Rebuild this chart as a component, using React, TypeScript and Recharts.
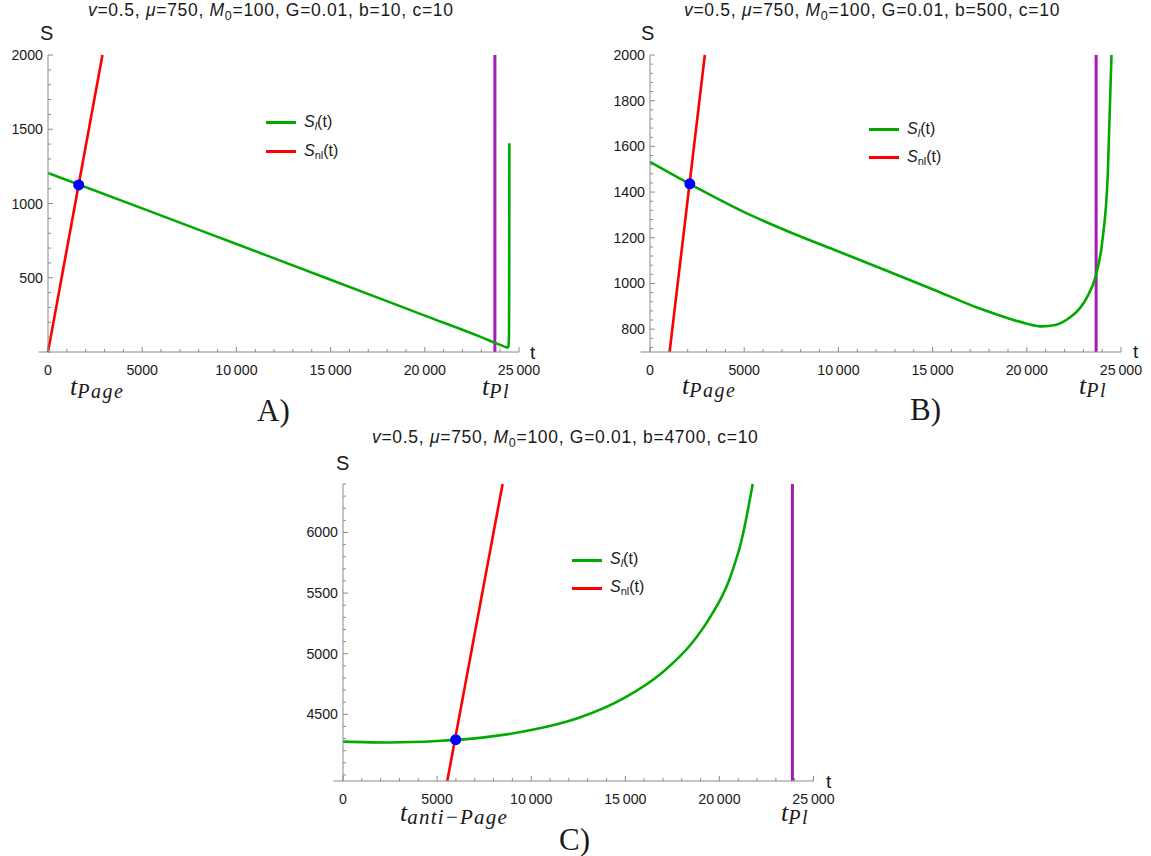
import React from 'react';
import { LineChart, Line, XAxis, YAxis, ReferenceLine, ReferenceDot, Legend } from 'recharts';

// ---------- Panel A (b=10) ----------
const tGreenA = [0, 5000, 10000, 15000, 20000, 23000, 23800, 24200, 24380, 24440, 24470, 24480, 24490];
const sGreenA = [1205, 967, 727, 487, 245, 100, 58, 38, 30, 38, 120, 600, 1405];
const tRedA = [0, 2890];
const sRedA = [0, 2000];
const dotA = [1630, 1125];
const tPlA = 23720;
const yMajorA = [500, 1000, 1500, 2000];

// ---------- Panel B (b=500) ----------
const tGreenB = [0, 2500, 5000, 7500, 10000, 12500, 15000, 17500, 19000, 20000, 20800, 21500, 22300, 22800, 23200, 23650, 24000, 24300, 24495];
const sGreenB = [1532, 1418, 1312, 1222, 1140, 1058, 975, 890, 848, 824, 812, 818, 852, 890, 940, 1030, 1180, 1480, 2000];
const tRedB = [1040, 2910];
const sRedB = [700, 2000];
const dotB = [2113, 1436];
const tPlB = 23680;
const yMajorB = [800, 1000, 1200, 1400, 1600, 1800, 2000];

// ---------- Panel C (b=4700) ----------
const tGreenC = [0, 2500, 5000, 7500, 10000, 12500, 15000, 17000, 18500, 19500, 20500, 21200, 21770];
const sGreenC = [4275, 4268, 4280, 4310, 4370, 4470, 4640, 4850, 5080, 5300, 5600, 5950, 6400];
const tRedC = [5540, 8480];
const sRedC = [3950, 6400];
const dotC = [5989, 4291];
const tPlC = 23880;
const yMajorC = [4500, 5000, 5500, 6000];

const SANS = '"Liberation Sans", Arial, sans-serif';
const SERIF = '"Liberation Serif", "Times New Roman", serif';
const AXIS = '#8a8a8a';
const GREEN = '#00aa00';
const RED = '#ff0000';
const PURPLE = '#a51ab5';
const BLUE = '#0000ff';
const TXT = '#1a1a1a';
const TICK_FS = 14.2;

const fmt = (v: number) =>
  v >= 10000 ? `${Math.floor(v / 1000)}\u2009${String(v % 1000).padStart(3, '0')}` : String(v);

const range = (a: number, b: number, step: number) => {
  const out: number[] = [];
  for (let v = a; v <= b + 1e-9; v += step) out.push(Math.round(v * 1000) / 1000);
  return out;
};

const isMult = (v: number, m: number) => Math.abs(v / m - Math.round(v / m)) < 1e-6;

const makeXTick = (major: number) => (props: any) => {
  const { x, y, payload } = props;
  const v = payload.value;
  const M = isMult(v, major);
  return (
    <g>
      <line x1={x} x2={x} y1={y} y2={y - (M ? 5 : 3)} stroke={AXIS} strokeWidth={1} />
      {M && (
        <text x={x} y={y + 23} textAnchor="middle" fontSize={TICK_FS} fontFamily={SANS} fill={TXT}>
          {fmt(v)}
        </text>
      )}
    </g>
  );
};

const makeYTick = (majors: number[]) => (props: any) => {
  const { x, y, payload } = props;
  const v = payload.value;
  const M = majors.some((m) => Math.abs(m - v) < 1e-6);
  return (
    <g>
      <line x1={x} x2={x + (M ? 5 : 3)} y1={y} y2={y} stroke={AXIS} strokeWidth={1} />
      {M && (
        <text x={x - 5} y={y + 5} textAnchor="end" fontSize={TICK_FS} fontFamily={SANS} fill={TXT}>
          {fmt(v)}
        </text>
      )}
    </g>
  );
};

const zip = (ts: number[], ss: number[]) => ts.map((t, i) => ({ t, s: ss[i] }));

type PanelCfg = {
  plotLeft: number;
  plotTop: number;
  plotW: number;
  plotH: number;
  yDomain: [number, number];
  yMinorStep: number;
  yMajor: number[];
  green: { t: number; s: number }[];
  red: { t: number; s: number }[];
  dot: number[];
  tPl: number;
  legendX: number;
  legendY: number;
  legendRow: number;
};

const YW = 45;
const XH = 40;
const PADT = 30;
const PADR = 45;

function LegendBox({ row }: { row: number }) {
  const item = (color: string, label: React.ReactNode) => (
    <div style={{ display: 'flex', alignItems: 'center', height: row }}>
      <div style={{ width: 30, height: 3, background: color, marginRight: 8 }} />
      <span style={{ fontFamily: SANS, fontSize: 16, color: TXT, lineHeight: 1, whiteSpace: 'nowrap' }}>
        {label}
      </span>
    </div>
  );
  return (
    <div>
      {item(
        GREEN,
        <>
          <i>S</i>
          <sub style={{ fontSize: 11, verticalAlign: -3 }}>
            <i>l</i>
          </sub>
          (t)
        </>
      )}
      {item(
        RED,
        <>
          <i>S</i>
          <sub style={{ fontSize: 11, verticalAlign: -3 }}>nl</sub>
          (t)
        </>
      )}
    </div>
  );
}

function Panel({ c }: { c: PanelCfg }) {
  const chartLeft = c.plotLeft - YW;
  const chartTop = c.plotTop - PADT;
  const width = YW + c.plotW + PADR;
  const height = PADT + c.plotH + XH;
  const xTicks = range(0, 25000, 1000);
  const yTicks = range(Math.ceil(c.yDomain[0] / c.yMinorStep) * c.yMinorStep, c.yDomain[1], c.yMinorStep);
  return (
    <div style={{ position: 'absolute', left: chartLeft, top: chartTop }}>
      <LineChart width={width} height={height} margin={{ top: PADT, right: PADR, left: 0, bottom: 0 }}>
        <XAxis
          type="number"
          dataKey="t"
          domain={[0, 25000]}
          ticks={xTicks}
          interval={0}
          tick={makeXTick(5000)}
          tickLine={false}
          tickSize={0}
          tickMargin={0}
          axisLine={{ stroke: AXIS, strokeWidth: 1 }}
          height={XH}
        />
        <YAxis
          type="number"
          domain={c.yDomain}
          ticks={yTicks}
          interval={0}
          tick={makeYTick(c.yMajor)}
          tickLine={false}
          tickSize={0}
          tickMargin={0}
          axisLine={{ stroke: AXIS, strokeWidth: 1 }}
          width={YW}
        />
        <ReferenceLine
          segment={[
            { x: -500, y: c.yDomain[0] },
            { x: 0, y: c.yDomain[0] },
          ]}
          stroke={AXIS}
          strokeWidth={1}
          ifOverflow="visible"
        />
        <ReferenceLine x={c.tPl} stroke={PURPLE} strokeWidth={3} />
        <Line
          data={c.green}
          dataKey="s"
          type="monotone"
          stroke={GREEN}
          strokeWidth={2.6}
          dot={false}
          isAnimationActive={false}
        />
        <Line
          data={c.red}
          dataKey="s"
          type="linear"
          stroke={RED}
          strokeWidth={2.6}
          dot={false}
          isAnimationActive={false}
        />
        <ReferenceDot x={c.dot[0]} y={c.dot[1]} r={5.5} fill={BLUE} stroke="none" />
        <Legend
          layout="vertical"
          align="center"
          verticalAlign="middle"
          content={() => <LegendBox row={c.legendRow} />}
          wrapperStyle={{
            position: 'absolute',
            left: c.legendX - chartLeft,
            top: c.legendY - chartTop - c.legendRow / 2,
            width: 'auto',
            height: 'auto',
          }}
        />
      </LineChart>
    </div>
  );
}

const panels: PanelCfg[] = [
  {
    plotLeft: 47.6,
    plotTop: 54.7,
    plotW: 471,
    plotH: 297,
    yDomain: [0, 2000],
    yMinorStep: 100,
    yMajor: yMajorA,
    green: zip(tGreenA, sGreenA),
    red: zip(tRedA, sRedA),
    dot: dotA,
    tPl: tPlA,
    legendX: 266,
    legendY: 123,
    legendRow: 29,
  },
  {
    plotLeft: 649.5,
    plotTop: 54.7,
    plotW: 471,
    plotH: 297,
    yDomain: [700, 2000],
    yMinorStep: 40,
    yMajor: yMajorB,
    green: zip(tGreenB, sGreenB),
    red: zip(tRedB, sRedB),
    dot: dotB,
    tPl: tPlB,
    legendX: 869,
    legendY: 130,
    legendRow: 28,
  },
  {
    plotLeft: 343.3,
    plotTop: 484,
    plotW: 470.5,
    plotH: 297,
    yDomain: [3950, 6400],
    yMinorStep: 100,
    yMajor: yMajorC,
    green: zip(tGreenC, sGreenC),
    red: zip(tRedC, sRedC),
    dot: dotC,
    tPl: tPlC,
    legendX: 572,
    legendY: 560,
    legendRow: 28,
  },
];

function Title({ x, y, b }: { x: number; y: number; b: string }) {
  return (
    <text x={x} y={y} fontFamily={SANS} fontSize={17.5} letterSpacing={0.7} fill={TXT}>
      <tspan fontStyle="italic">v</tspan>=0.5, <tspan fontStyle="italic">μ</tspan>=750,{' '}
      <tspan fontStyle="italic">M</tspan>
      <tspan fontSize={12.5} dy={4}>0</tspan>
      <tspan dy={-4}>=100, G=0.01, b={b}, c=10</tspan>
    </text>
  );
}

function TSub({ x, y, sub, size = 26, subSize = 20, ls = 1.5 }: { x: number; y: number; sub: string; size?: number; subSize?: number; ls?: number }) {
  return (
    <text x={x} y={y} fontFamily={SERIF} fontStyle="italic" fill={TXT} fontSize={size}>
      t
      <tspan fontSize={subSize} dy={3} letterSpacing={ls}>
        {sub}
      </tspan>
    </text>
  );
}

export default function App() {
  return (
    <div style={{ position: 'absolute', left: 0, top: 0, width: 1151, height: 856, background: '#fff', overflow: 'hidden' }}>
      {panels.map((c, i) => (
        <Panel key={i} c={c} />
      ))}
      <svg width={1151} height={856} style={{ position: 'absolute', left: 0, top: 0, pointerEvents: 'none' }}>
        <Title x={88} y={16} b="10" />
        <Title x={684} y={16} b="500" />
        <Title x={372} y={443} b="4700" />

        <text x={40} y={40} fontFamily={SANS} fontSize={20} fill={TXT}>S</text>
        <text x={641} y={40} fontFamily={SANS} fontSize={20} fill={TXT}>S</text>
        <text x={336} y={470} fontFamily={SANS} fontSize={20} fill={TXT}>S</text>

        <text x={530} y={359} fontFamily={SANS} fontSize={19} fill={TXT}>t</text>
        <text x={1133} y={358} fontFamily={SANS} fontSize={19} fill={TXT}>t</text>
        <text x={826} y={788} fontFamily={SANS} fontSize={19} fill={TXT}>t</text>

        <TSub x={70} y={395} sub="Page" />
        <TSub x={482} y={395} sub="Pl" />
        <TSub x={682} y={394} sub="Page" />
        <TSub x={1079} y={394} sub="Pl" />
        <TSub x={400} y={821} sub={'anti\u2212Page'} subSize={21} ls={1.2} />
        <TSub x={781} y={821} sub="Pl" />

        <text x={257} y={421} fontFamily={SERIF} fontSize={31} fill={TXT}>A)</text>
        <text x={910} y={420} fontFamily={SERIF} fontSize={31} fill={TXT}>B)</text>
        <text x={559} y={850} fontFamily={SERIF} fontSize={31} fill={TXT}>C)</text>
      </svg>
    </div>
  );
}
